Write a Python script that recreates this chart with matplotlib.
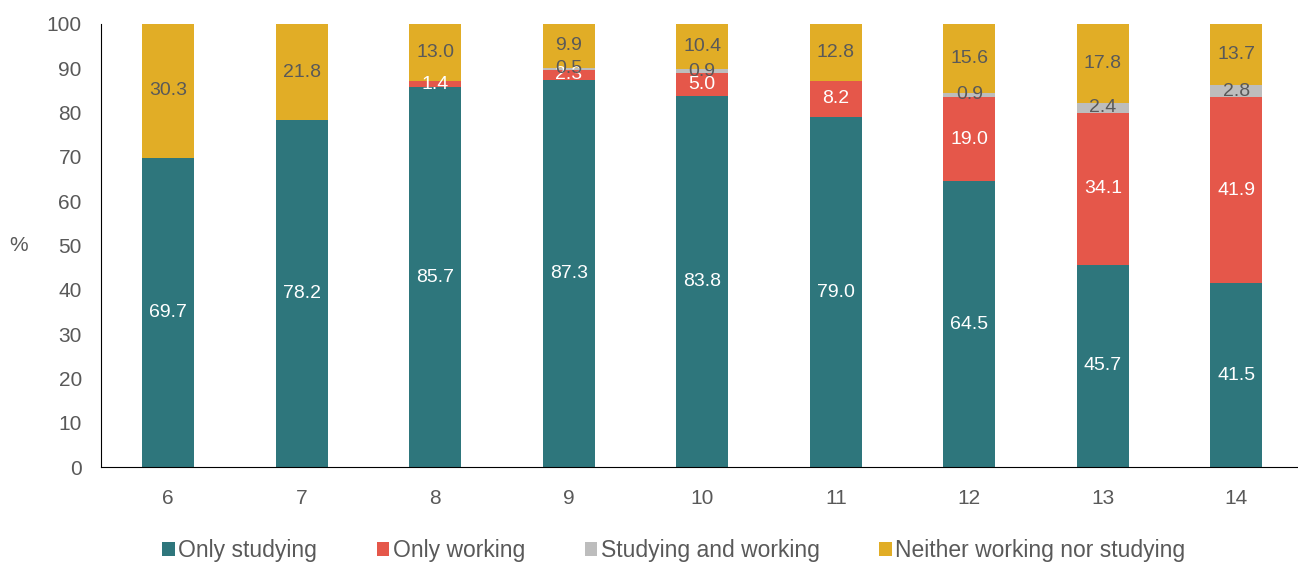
import matplotlib.pyplot as plt
import numpy as np

plt.rcParams['font.family'] = ['Liberation Sans', 'DejaVu Sans']

ages = ['6', '7', '8', '9', '10', '11', '12', '13', '14']
only_studying = [69.7, 78.2, 85.7, 87.3, 83.8, 79.0, 64.5, 45.7, 41.5]
only_working = [0, 0, 1.4, 2.3, 5.0, 8.2, 19.0, 34.1, 41.9]
studying_working = [0, 0, 0, 0.5, 0.9, 0, 0.9, 2.4, 2.8]
neither = [30.3, 21.8, 13.0, 9.9, 10.4, 12.8, 15.6, 17.8, 13.7]

series = [
    ("Only studying", only_studying, '#2E767C', 'white'),
    ("Only working", only_working, '#E5574A', 'white'),
    ("Studying and working", studying_working, '#BDBDBD', '#595959'),
    ("Neither working nor studying", neither, '#E1AD26', '#595959'),
]

fig = plt.figure(figsize=(12.98, 5.65), dpi=100)
ax = fig.add_axes([0.078, 0.173, 0.926, 0.785])

x = np.arange(len(ages))
bottom = np.zeros(len(ages))
for name, vals, col, tcol in series:
    vals = np.array(vals)
    ax.bar(x, vals, 0.39, bottom=bottom, color=col, label=name)
    for i, v in enumerate(vals):
        if v > 0:
            ax.text(x[i], bottom[i] + v / 2, f"{v:.1f}", ha='center', va='center',
                    color=tcol, fontsize=14)
    bottom += vals

ax.set_xlim(-0.5, len(ages) - 0.5)
ax.set_ylim(0, 100)
ax.set_yticks(range(0, 101, 10))
ax.set_xticks(x)
ax.set_xticklabels(ages)
ax.tick_params(length=0, labelsize=15, colors='#595959')
ax.tick_params(axis='x', pad=16)
ax.tick_params(axis='y', pad=14)
ax.spines['top'].set_visible(False)
ax.spines['right'].set_visible(False)
ax.spines['left'].set_color('black')
ax.spines['bottom'].set_color('black')
ax.set_ylabel('%', rotation=0, fontsize=15, color='#595959', va='center')
ax.yaxis.set_label_coords(-0.069, 0.50)

leg = fig.legend(*ax.get_legend_handles_labels(), loc='center', bbox_to_anchor=(0.519, 0.025),
                 ncol=4, frameon=False, fontsize=16.5, handlelength=0.55, handleheight=0.55,
                 handletextpad=0.15, columnspacing=2.6)
for t in leg.get_texts():
    t.set_color('#595959')

fig.savefig('out.png', dpi=100)
